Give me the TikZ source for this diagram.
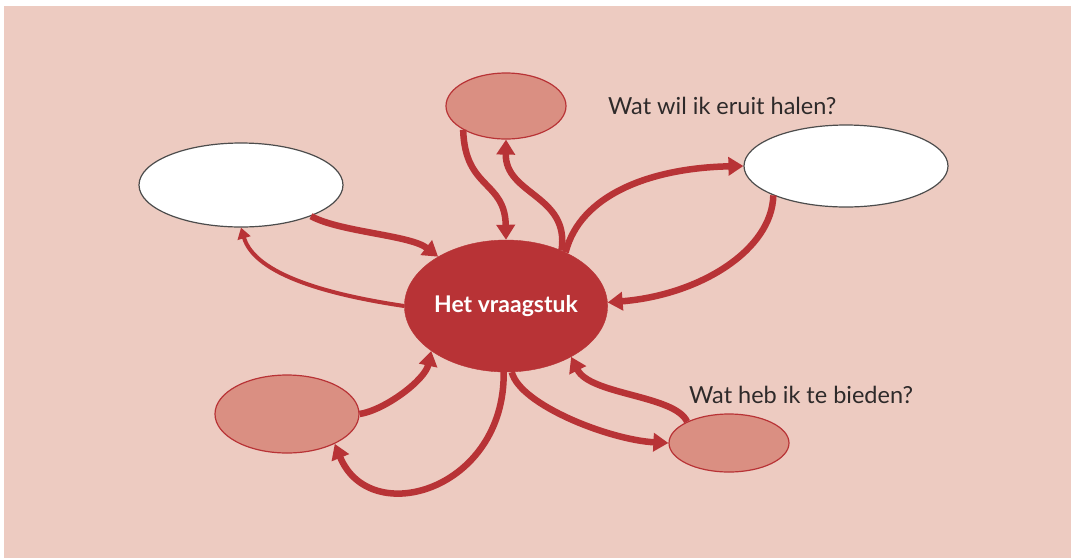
\documentclass[tikz,border=0pt]{standalone}
\usepackage{fontspec}
\setmainfont{Lato}
\usetikzlibrary{shapes.geometric,arrows.meta}
\definecolor{bgpink}{HTML}{EDCBC1}
\definecolor{darkred}{HTML}{B83336}
\definecolor{lightred}{HTML}{DA8F82}
\definecolor{txtgray}{HTML}{2E2A2A}
\tikzset{
  core/.style={ellipse, fill=darkred, draw=darkred, inner sep=0pt, text=white,
    font=\fontsize{23}{26}\selectfont\bfseries},
  pinkell/.style={ellipse, fill=lightred, draw=darkred, line width=1.2pt, inner sep=0pt},
  whiteell/.style={ellipse, fill=white, draw=black!70, line width=1.2pt, inner sep=0pt},
  conn/.style={draw=darkred, line width=6.5pt,
    -{Triangle[length=15pt,width=18pt]}},
  thinconn/.style={draw=darkred, line width=4pt,
    -{Triangle[length=11pt,width=13pt]}},
  lbl/.style={text=txtgray, font=\fontsize{23.5}{27}\selectfont, inner sep=0pt, anchor=west}
}
\begin{document}
\begin{tikzpicture}[x=1pt,y=-1pt]
\useasboundingbox (0,0) rectangle (1071,558);
\fill[white] (0,0) rectangle (1071,558);
\fill[bgpink] (4,6) rectangle (1071,558);

\node[core, minimum width=198pt, minimum height=132pt] (c) at (506,306) {Het vraagstuk};
\node[pinkell, minimum width=120pt, minimum height=66pt] (t) at (506,106) {};
\node[whiteell, minimum width=204pt, minimum height=84pt] (L) at (241,185) {};
\node[whiteell, minimum width=204pt, minimum height=82pt] (R) at (846,166) {};
\node[pinkell, minimum width=144pt, minimum height=78pt] (BL) at (287,414) {};
\node[pinkell, minimum width=120pt, minimum height=58pt] (BR) at (729,443) {};

\node[lbl] (q1) at (608,106) {Wat wil ik eruit halen?};
\node[lbl] (q2) at (689,395) {Wat heb ik te bieden?};

% top
\draw[conn] (t.209) .. controls (465,190) and (505,180) .. (c.90);
\draw[conn] (c.45) .. controls (570,195) and (505,195) .. (t.270);
% right white
\draw[conn] (c.42) .. controls (580,195) and (650,168) .. (R.180);
\draw[conn] (R.202) .. controls (772,250) and (700,295) .. (c.2);
% left white
\draw[conn] (L.336) .. controls (340,232) and (410,235) .. (c.144);
\draw[thinconn] (c.180) .. controls (330,295) and (255,275) .. (L.270);
% bottom left
\draw[conn] (BL.0) .. controls (385,410) and (425,380) .. (c.211);
\draw[conn] (c.268) .. controls (505,490) and (370,530) .. (BL.328);
% bottom right
\draw[conn] (c.275) .. controls (520,405) and (610,440) .. (BR.180);
\draw[conn] (BR.153) .. controls (675,395) and (590,395) .. (c.322);
\end{tikzpicture}
\end{document}
